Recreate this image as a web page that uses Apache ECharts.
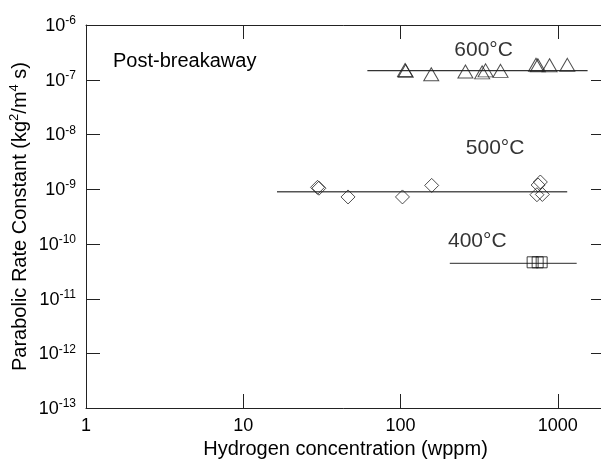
<!DOCTYPE html>
<html>
<head>
<meta charset="utf-8">
<style>
  html, body { margin: 0; padding: 0; background: #fff; }
  #chart { width: 601px; height: 462px; }
</style>
<script src="https://cdn.jsdelivr.net/npm/echarts@6/dist/echarts.min.js"></script>
</head>
<body>
<div id="chart"></div>
<script>
// Hydrogen concentration (wppm) and parabolic rate constant (kg^2/m^4 s)
const h600 = [107, 108, 157, 259, 331, 348, 433, 728, 748, 888, 1152];
const k600 = [1.50e-7, 1.45e-7, 1.26e-7, 1.41e-7, 1.36e-7, 1.48e-7, 1.45e-7, 1.88e-7, 1.84e-7, 1.84e-7, 1.87e-7];

const h500 = [29.7, 30.3, 46.4, 103, 158, 776, 751, 738, 799];
const k500 = [1.08e-9, 1.04e-9, 7.2e-10, 7.2e-10, 1.17e-9, 1.35e-9, 1.19e-9, 7.9e-10, 8.0e-10];

const h400 = [693, 746, 791];
const k400 = [4.6e-11, 4.6e-11, 4.6e-11];

// Horizontal fits: [start, end] concentration and constant value
const fit600H = [61.6, 1550];
const fit600K = 1.46e-7;
const fit500H = [16.4, 1150];
const fit500K = 8.97e-10;
const fit400H = [206, 1321];
const fit400K = 4.4e-11;

// Temperature labels and where they sit in data space
const tempLabels = ['600°C', '500°C', '400°C'];
const tempLabelH = [338, 400, 308];
const tempLabelK = [3.5e-7, 5.6e-9, 1.12e-10];

// Axis ranges and decade ticks
const xRange = [1, 2000];
const yRange = [1e-13, 1e-6];
const xTicks = [1, 10, 100, 1000];
const yTicks = [1e-13, 1e-12, 1e-11, 1e-10, 1e-9, 1e-8, 1e-7, 1e-6];

const FONT = '"Liberation Sans", Arial, Helvetica, sans-serif';
const INK = '#222';
const TICK_LEN = 14;

function pairs(xs, ys) { return xs.map((x, i) => [x, ys[i]]); }

const chart = echarts.init(document.getElementById('chart'), null, { renderer: 'canvas' });

const supRich = {
  b: { fontFamily: FONT, fontSize: 18, color: '#000', verticalAlign: 'bottom', lineHeight: 20 },
  s: { fontFamily: FONT, fontSize: 12, color: '#000', verticalAlign: 'top', padding: [0, 0, 10, 0], lineHeight: 20 }
};

function frameLine() { return { show: true, lineStyle: { color: INK, width: 1 } }; }

// Inward tick marks on all four sides of the box, placed through the axis scales.
// Interior decades only: the end ticks coincide with the frame lines.
const tickData = []
  .concat(xTicks.filter(t => t > xRange[0] && t < xRange[1]).map(t => [t, yRange[0], 0]))
  .concat(yTicks.filter(t => t > yRange[0] && t < yRange[1]).map(t => [xRange[0], t, 1]));

function renderTick(params, api) {
  const kind = api.value(2);
  const style = { stroke: INK, lineWidth: 1 };
  if (kind === 0) {
    const v = api.value(0);
    const pb = api.coord([v, yRange[0]]);
    const pt = api.coord([v, yRange[1]]);
    const x = Math.round(pb[0]) + 0.5;
    return {
      type: 'group',
      children: [
        { type: 'line', shape: { x1: x, y1: pb[1], x2: x, y2: pb[1] - TICK_LEN }, style },
        { type: 'line', shape: { x1: x, y1: pt[1], x2: x, y2: pt[1] + TICK_LEN }, style }
      ]
    };
  }
  const v = api.value(1);
  const pl = api.coord([xRange[0], v]);
  const pr = api.coord([xRange[1], v]);
  const y = Math.round(pl[1]) + 0.5;
  return {
    type: 'group',
    children: [
      { type: 'line', shape: { x1: pl[0], y1: y, x2: pl[0] + TICK_LEN, y2: y }, style },
      { type: 'line', shape: { x1: pr[0] - TICK_LEN, y1: y, x2: pr[0], y2: y }, style }
    ]
  };
}

// Two grids share one rectangle: the first carries the data with the bottom/left
// axes, the second carries the top/right frame lines.
const plotRect = { left: 86, top: 25, width: 519, height: 383, containLabel: false, outerBoundsMode: 'none' };

const option = {
  animation: false,
  backgroundColor: '#fff',
  grid: [Object.assign({}, plotRect), Object.assign({}, plotRect)],
  xAxis: [
    {
      gridIndex: 0, type: 'log', logBase: 10, min: xRange[0], max: xRange[1], position: 'bottom',
      axisLine: frameLine(), axisTick: { show: false }, minorTick: { show: false },
      splitLine: { show: false },
      axisLabel: {
        show: true, margin: 9, fontFamily: FONT, fontSize: 18, color: '#000',
        showMinLabel: true,
        formatter: v => (xTicks.some(t => Math.abs(t - v) / t < 1e-6) ? String(Math.round(v)) : '')
      },
      name: 'Hydrogen concentration (wppm)', nameLocation: 'middle', nameGap: 30,
      nameTextStyle: { fontFamily: FONT, fontSize: 20, color: '#000' }
    },
    {
      gridIndex: 1, type: 'log', logBase: 10, min: xRange[0], max: xRange[1], position: 'top',
      axisLine: frameLine(), axisTick: { show: false }, axisLabel: { show: false },
      splitLine: { show: false }, minorTick: { show: false }
    }
  ],
  yAxis: [
    {
      gridIndex: 0, type: 'log', logBase: 10, min: yRange[0], max: yRange[1], position: 'left',
      axisLine: frameLine(), axisTick: { show: false }, minorTick: { show: false },
      splitLine: { show: false },
      axisLabel: {
        margin: 10,
        formatter: v => '{b|10}{s|' + Math.round(Math.log10(v)) + '}',
        rich: supRich
      },
      name: '{t|Parabolic Rate Constant (kg}{u|2}{t|/m}{u|4}{t| s)}',
      nameLocation: 'middle', nameGap: 56, nameRotate: 90, nameMoveOverlap: false,
      nameTextStyle: {
        rich: {
          t: { fontFamily: FONT, fontSize: 20, color: '#000', verticalAlign: 'bottom', lineHeight: 22 },
          u: { fontFamily: FONT, fontSize: 13, color: '#000', verticalAlign: 'top', padding: [0, 0, 11, 0], lineHeight: 22 }
        }
      }
    },
    {
      gridIndex: 1, type: 'log', logBase: 10, min: yRange[0], max: yRange[1], position: 'right',
      axisLine: frameLine(), axisTick: { show: false }, axisLabel: { show: false },
      splitLine: { show: false }, minorTick: { show: false }
    }
  ],
  graphic: [
    {
      type: 'text', left: 113, top: 51,
      style: { text: 'Post-breakaway', font: '20px ' + FONT, fill: '#000' }
    }
  ],
  series: [
    {
      type: 'custom', renderItem: renderTick, data: tickData,
      encode: { x: 0, y: 1 }, clip: false, silent: true, z: 2
    },
    {
      type: 'line', data: pairs(fit600H, [fit600K, fit600K]), symbol: 'none',
      lineStyle: { color: '#333', width: 1.3 }, silent: true, z: 1
    },
    {
      type: 'line', data: pairs(fit500H, [fit500K, fit500K]), symbol: 'none',
      lineStyle: { color: '#555', width: 1.3 }, silent: true, z: 1
    },
    {
      type: 'line', data: pairs(fit400H, [fit400K, fit400K]), symbol: 'none',
      lineStyle: { color: '#555', width: 1.3 }, silent: true, z: 1
    },
    {
      type: 'scatter', data: pairs(h600, k600), symbol: 'triangle', symbolSize: [15, 13],
      itemStyle: { color: 'rgba(255,255,255,0)', borderColor: '#222', borderWidth: 1 }, z: 3
    },
    {
      type: 'scatter', data: pairs(h500, k500), symbol: 'diamond', symbolSize: [14, 14],
      itemStyle: { color: 'rgba(255,255,255,0)', borderColor: '#222', borderWidth: 1 }, z: 3
    },
    {
      type: 'scatter', data: pairs(h400, k400), symbol: 'rect', symbolSize: [11, 11],
      itemStyle: { color: 'rgba(255,255,255,0)', borderColor: '#111', borderWidth: 1 }, z: 3
    },
    {
      type: 'scatter', data: tempLabels.map((t, i) => ({ value: [tempLabelH[i], tempLabelK[i]], name: t })),
      symbolSize: 0, silent: true, z: 4,
      label: {
        show: true, position: 'inside', formatter: p => p.name,
        fontFamily: FONT, fontSize: 21, color: '#000'
      }
    }
  ]
};

chart.setOption(option);
</script>
</body>
</html>
